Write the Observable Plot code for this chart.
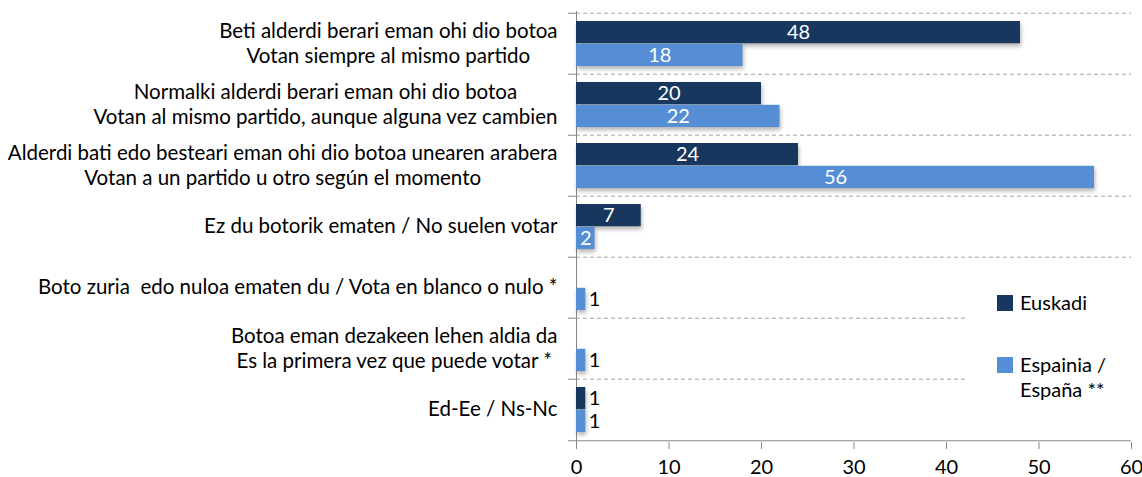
<!DOCTYPE html>
<html>
<head>
<meta charset="utf-8">
<script src="https://cdn.jsdelivr.net/npm/d3@7"></script>
<script src="https://cdn.jsdelivr.net/npm/@observablehq/plot@0.6"></script>
<style>
  body { margin: 0; background: #fff; }
  #wrap { position: relative; width: 1142px; height: 477px; font-family: Lato, sans-serif; }
  .bars rect { filter: drop-shadow(1px 3px 2px rgba(0,0,0,0.3)); }
  .catlabels text { white-space: pre; }
  #legend { position: absolute; left: 968px; top: 262px; width: 174px; height: 170px; background: #fff; font-family: Lato, sans-serif; font-size: 20px; color: #000; }
  .item { position: absolute; left: 29px; }
  .sw { position: absolute; left: 0; width: 16px; height: 16px; }
  .lab { position: absolute; left: 23px; line-height: 25px; white-space: pre; }
</style>
</head>
<body>
<div id="wrap"></div>
<script>
// ---- data ----
const categories = [
  "Beti alderdi berari eman ohi dio botoa\nVotan siempre al mismo partido",
  "Normalki alderdi berari eman ohi dio botoa\nVotan al mismo partido, aunque alguna vez cambien",
  "Alderdi bati edo besteari eman ohi dio botoa unearen arabera\nVotan a un partido u otro según el momento",
  "Ez du botorik ematen / No suelen votar",
  "Boto zuria  edo nuloa ematen du / Vota en blanco o nulo *",
  "Botoa eman dezakeen lehen aldia da\nEs la primera vez que puede votar *",
  "Ed-Ee / Ns-Nc"
];
const euskadi  = [48, 20, 24, 7, null, null, 1];
const espainia = [18, 22, 56, 2, 1, 1, 1];
const seriesNames = ["Euskadi", "Espainia /\nEspaña **"];
const seriesColors = ["#17375E", "#558ED5"];
const xTicks = [0, 10, 20, 30, 40, 50, 60];

// ---- layout ----
const W = 1142, H = 477, ml = 576, mr = 11, mt = 11, mb = 35;
const bw = (H - mt - mb) / categories.length;
const pad = 8;
const barH = (bw - 2 * pad) / 2;
const fs = 20;
const catFs = 20.5;

const rows = [];
categories.forEach((c, i) => {
  if (euskadi[i] != null) rows.push({cat: c, series: 0, value: euskadi[i]});
  if (espainia[i] != null) rows.push({cat: c, series: 1, value: espainia[i]});
});
const inside = d => d.value > 1;
const ofSeries = s => rows.filter(d => d.series === s);

const valueMarks = [0, 1].flatMap(s => {
  const off = s === 0 ? -(bw / 2 - pad - barH / 2) : (bw / 2 - pad - barH / 2);
  return [
    Plot.text(ofSeries(s).filter(inside), {y: "cat", x: d => d.value / 2, text: d => String(d.value), dy: off, fill: "#fff", fontSize: fs}),
    Plot.text(ofSeries(s).filter(d => !inside(d)), {y: "cat", x: "value", text: d => String(d.value), dy: off, dx: 3, textAnchor: "start", fill: "#000", fontSize: fs})
  ];
});

const chart = Plot.plot({
  width: W, height: H,
  marginLeft: ml, marginRight: mr, marginTop: mt, marginBottom: mb,
  style: {fontFamily: "Lato, sans-serif", fontSize: fs + "px", color: "#000", background: "transparent", overflow: "visible"},
  x: {domain: [0, 60], ticks: xTicks, axis: null},
  y: {domain: categories, padding: 0, axis: null},
  marks: [
    Plot.ruleY(categories, {y: d => d, dy: -bw / 2, stroke: "#a6a6a6", strokeDasharray: "4,3"}),
    Plot.ruleY(categories, {y: d => d, dy: -bw / 2, stroke: "#868686", insetLeft: -8, insetRight: W - ml - mr}),
    Plot.ruleY(categories.slice(-1), {y: d => d, dy: bw / 2, stroke: "#868686", insetLeft: -8}),
    Plot.ruleX([0], {stroke: "#868686"}),
    Plot.axisX({ticks: xTicks, tickSize: 7, tickPadding: 10, stroke: "#868686", fontSize: fs, label: null}),
    Plot.barX(ofSeries(0), {y: "cat", x: "value", fill: seriesColors[0], insetTop: pad, insetBottom: pad + barH, className: "bars"}),
    Plot.barX(ofSeries(1), {y: "cat", x: "value", fill: seriesColors[1], insetTop: pad + barH, insetBottom: pad, className: "bars"}),
    ...valueMarks,
    Plot.text(categories, {y: d => d, text: d => d, frameAnchor: "left", dx: -19, dy: -2, textAnchor: "end", lineHeight: 1.22, fontSize: catFs, fill: "#000", className: "catlabels"})
  ]
});

const wrap = document.getElementById("wrap");
wrap.appendChild(chart);

// center the lines of each multi-line category label within its block
chart.querySelectorAll(".catlabels text").forEach(t => {
  const spans = [...t.querySelectorAll("tspan")];
  if (spans.length < 2) return;
  const ws = spans.map(s => s.getComputedTextLength());
  const m = Math.max(...ws);
  spans.forEach((s, i) => s.setAttribute("x", -(m - ws[i]) / 2));
});

// legend
const legend = document.createElement("div");
legend.id = "legend";
const tops = [33, 95];
seriesNames.forEach((name, i) => {
  const it = document.createElement("div");
  it.className = "item";
  it.style.top = tops[i] + "px";
  const sw = document.createElement("div");
  sw.className = "sw";
  sw.style.background = seriesColors[i];
  const lab = document.createElement("div");
  lab.className = "lab";
  lab.style.top = "-5px";
  lab.textContent = name;
  it.appendChild(sw);
  it.appendChild(lab);
  legend.appendChild(it);
});
wrap.appendChild(legend);
</script>
</body>
</html>
